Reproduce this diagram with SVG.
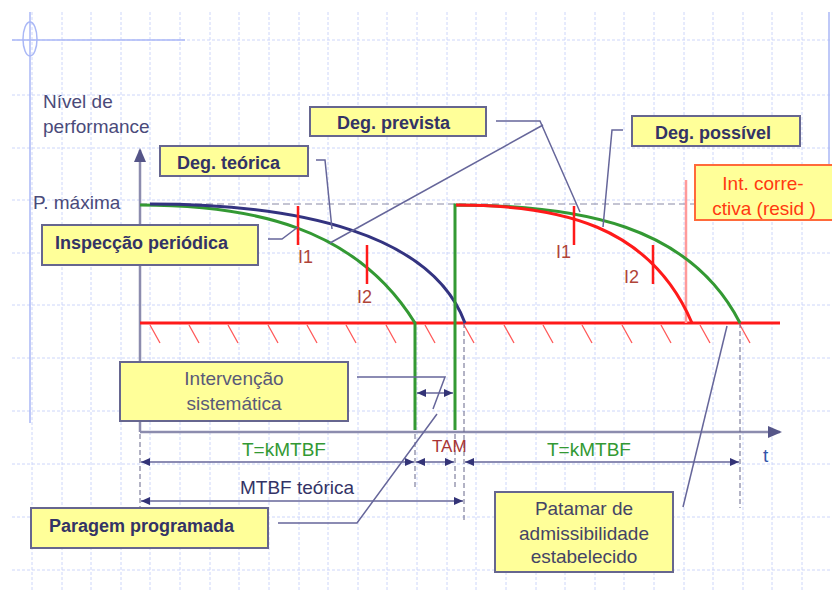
<svg xmlns="http://www.w3.org/2000/svg" width="832" height="601" viewBox="0 0 832 601">
<defs>
<marker id="dim" markerWidth="9" markerHeight="8" refX="9" refY="4" orient="auto-start-reverse" markerUnits="userSpaceOnUse"><path d="M0,0 L9,4 L0,8 z" fill="#333377"/></marker>
<marker id="axis" markerWidth="14" markerHeight="12" refX="12" refY="6" orient="auto" markerUnits="userSpaceOnUse"><path d="M0,0 L14,6 L0,12 z" fill="#555588"/></marker>
<style>
.grid{stroke:#cdd6fa;stroke-width:1;stroke-dasharray:3 2;fill:none}
.frame{stroke:#aab8f6;stroke-width:1.5;fill:none}
.axis{stroke:#8c8cae;stroke-width:2.5;fill:none}
.box{fill:#ffff99;stroke:#66668f;stroke-width:2}
.boxr{fill:#ffff99;stroke:#ff6a3a;stroke-width:2}
.bt{font-family:"Liberation Sans",Arial,sans-serif;font-size:18px;font-weight:bold;fill:#333366}
.rt{font-family:"Liberation Sans",Arial,sans-serif;font-size:19px;fill:#444466}
.lead{stroke:#66669a;stroke-width:1.5;fill:none}
.dim{stroke:#66669a;stroke-width:1.5;fill:none}
.ext{stroke:#66668a;stroke-width:1;stroke-dasharray:5 3;fill:none}
.green{stroke:#339933;stroke-width:3;fill:none}
.red{stroke:#ff1a1a;stroke-width:3;fill:none}
.navy{stroke:#333380;stroke-width:3;fill:none}
.tick{stroke:#ff1a1a;stroke-width:2.5;fill:none}
.il{font-family:"Liberation Sans",Arial,sans-serif;font-size:18px;fill:#b04438}
</style>
</defs>
<rect width="832" height="601" fill="#ffffff"/>
<g id="grid">
<path class="grid" d="M32,12V590 M62,12V590 M91,12V590 M121,12V590 M150,12V590 M180,12V590 M210,12V590 M239,12V590 M269,12V590 M299,12V590 M328,12V590 M358,12V590 M387,12V590 M417,12V590 M447,12V590 M476,12V590 M506,12V590 M536,12V590 M565,12V590 M595,12V590 M624,12V590 M654,12V590 M684,12V590 M713,12V590 M743,12V590 M772,12V590 M802,12V590"/>
<path class="grid" d="M12,40H832 M12,95H832 M12,148H832 M12,200H832 M12,253H832 M12,305H832 M12,358H832 M12,411H832 M12,464H832 M12,517H832 M12,570H832"/>
<path class="frame" d="M12,40H185 M30,12V423 M829,12V166"/>
<ellipse class="frame" cx="30" cy="39" rx="7" ry="17"/>
</g>
<g id="axes">
<path class="axis" d="M140,432V150" marker-end="url(#axis)"/>
<path class="axis" d="M140,432H780" marker-end="url(#axis)"/>
<text class="rt" x="43" y="108" style="fill:#4a4a7a">Nível de</text>
<text class="rt" x="43" y="133" style="fill:#4a4a7a">performance</text>
<text class="rt" x="33" y="209" style="fill:#4a4a7a">P. máxima</text>
<text class="rt" x="763" y="462" style="fill:#3355aa">t</text>
</g>
<g id="pmax-line">
<path d="M140,204H830" stroke="#8a8aa6" stroke-width="1.2" stroke-dasharray="7 4" fill="none"/>
</g>
<g id="threshold">
<path class="red" d="M140,323H780"/>
<path d="M150,325l10,18 M189,325l10,18 M228,325l10,18 M268,325l10,18 M307,325l10,18 M346,325l10,18 M386,325l10,18 M425,325l10,18 M464,325l10,18 M504,325l10,18 M543,325l10,18 M582,325l10,18 M622,325l10,18 M661,325l10,18 M700,325l10,18 M740,325l10,18" stroke="#ff5a5a" stroke-width="1.3" fill="none"/>
</g>
<g id="extension-lines">
<path class="ext" d="M140,434V507 M415,434V490 M455,434V490 M464,323V520 M740,323V508"/>
</g>
<g id="curves">
<path d="M686,180V323" stroke="#ff9a9a" stroke-width="2.5" fill="none"/>
<path class="green" d="M140,205 C250,205 355,226 415,323 V430"/>
<path class="navy" d="M150,204 C300,204 432,234 465,323"/>
<path class="green" d="M455,430 V205 C580,205 690,225 740,323"/>
<path class="red" d="M456,205 C560,205 650,225 692,323"/>
<path class="tick" d="M298,206V245 M367,245V284 M574,206V245 M653,245V284"/>
<text class="il" x="298" y="263">I1</text>
<text class="il" x="357" y="303">I2</text>
<text class="il" x="556" y="258">I1</text>
<text class="il" x="624" y="283">I2</text>
</g>
<g id="dimensions">
<path class="dim" d="M417,393H453" marker-start="url(#dim)" marker-end="url(#dim)"/>
<path class="dim" d="M141,462H414" marker-start="url(#dim)" marker-end="url(#dim)"/>
<path class="dim" d="M416,462H454" marker-start="url(#dim)" marker-end="url(#dim)"/>
<path class="dim" d="M465,462H739" marker-start="url(#dim)" marker-end="url(#dim)"/>
<path class="dim" d="M141,501H463" marker-start="url(#dim)" marker-end="url(#dim)"/>
<text class="rt" x="242" y="456" style="fill:#339933">T=kMTBF</text>
<text class="rt" x="432" y="452" style="fill:#a83434;font-size:17px">TAM</text>
<text class="rt" x="547" y="456" style="fill:#339933">T=kMTBF</text>
<text class="rt" x="240" y="494" style="fill:#333366">MTBF teórica</text>
</g>
<g id="connectors">
<path class="lead" d="M316,160H325L332,229"/>
<path class="lead" d="M268,239H282L298,227"/>
<path class="lead" d="M496,121H540L580,212"/>
<path class="lead" d="M543,125L330,243"/>
<path class="lead" d="M623,130H612L603,227"/>
<path class="lead" d="M357,377H445L433,409"/>
<path class="lead" d="M278,523H357L437,414"/>
<path class="lead" d="M683,507L727,326"/>
</g>
<g id="deg-teorica">
<rect class="box" x="160" y="146" width="148" height="30"/>
<text class="bt" x="177" y="169">Deg. teórica</text>
</g>
<g id="deg-prevista">
<rect class="box" x="310" y="107" width="176" height="29"/>
<text class="bt" x="337" y="129">Deg. prevista</text>
</g>
<g id="inspeccao-periodica">
<rect class="box" x="42" y="225" width="216" height="40"/>
<text class="bt" x="55" y="249">Inspecção periódica</text>
</g>
<g id="deg-possivel">
<rect class="box" x="632" y="116" width="168" height="30"/>
<text class="bt" x="655" y="139">Deg. possível</text>
</g>
<g id="int-correctiva">
<rect class="boxr" x="695" y="165" width="140" height="55"/>
<text class="rt" x="763" y="190" text-anchor="middle" style="fill:#ff3a10">Int. corre-</text>
<text class="rt" x="764" y="215" text-anchor="middle" style="fill:#ff3a10">ctiva (resid  )</text>
</g>
<g id="intervencao-sistematica">
<rect class="box" x="120" y="362" width="228" height="59"/>
<text class="rt" x="234" y="385" text-anchor="middle" style="fill:#5a5a78">Intervenção</text>
<text class="rt" x="234" y="410" text-anchor="middle" style="fill:#5a5a78">sistemática</text>
</g>
<g id="paragem-programada">
<rect class="box" x="31" y="508" width="237" height="40"/>
<text class="bt" x="49" y="532">Paragem programada</text>
</g>
<g id="patamar">
<rect class="box" x="495" y="492" width="178" height="80"/>
<text class="rt" x="584" y="515" text-anchor="middle">Patamar de</text>
<text class="rt" x="584" y="540" text-anchor="middle">admissibilidade</text>
<text class="rt" x="584" y="563" text-anchor="middle">estabelecido</text>
</g>
</svg>
